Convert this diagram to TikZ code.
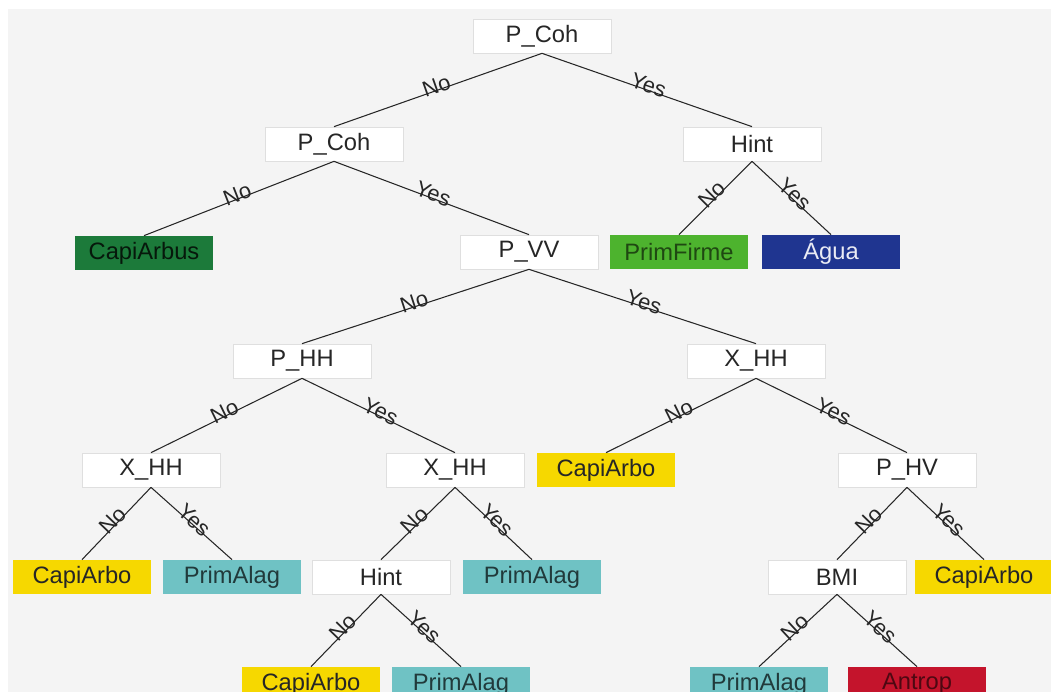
\documentclass[tikz,border=0pt]{standalone}
\usepackage{fontspec}
\setmainfont{Liberation Sans}
\definecolor{paperGray}{HTML}{F4F4F4}
\definecolor{capiYellow}{HTML}{F6D800}
\definecolor{primTeal}{HTML}{6FC2C4}
\definecolor{arbusGreen}{HTML}{1C7A3A}
\definecolor{firmeGreen}{HTML}{4DB32E}
\definecolor{aguaBlue}{HTML}{1F3590}
\definecolor{antropRed}{HTML}{C4142C}
\begin{document}
\begin{tikzpicture} [x=0.02cm,y=-0.02cm,
	box/.style={shape=rectangle,minimum width=2.76cm,minimum height=0.68cm,inner sep=0pt,font=\fontsize{13.5}{15}\selectfont},
	test/.style={box,draw=gray!25,fill=white,text=black!85},
	leaf/.style 2 args={box,fill=#1,text=#2},
	branch/.style={line width=0.6pt,black!85},
	answer/.style={midway,above=-2.5pt,sloped,inner sep=0.5pt,font=\fontsize{12.5}{14}\selectfont,text=black!85}]
	\useasboundingbox (0,0) rectangle (1051,692);
	\fill[white] (0,0) rectangle (1051,692);
	\fill[paperGray] (8,9) rectangle (1051,692);

	\node (root) at (542,36)[test] {P\_Coh};
	\node (pCoh) at (334,144)[test] {P\_Coh};
	\node (hintTop) at (752,144)[test] {Hint};
	\node (capiArbus) at (144,253)[leaf={arbusGreen}{black!80!arbusGreen}] {CapiArbus};
	\node (pVV) at (529,252)[test] {P\_VV};
	\node (primFirme) at (679,252)[leaf={firmeGreen}{black!60!firmeGreen}] {PrimFirme};
	\node (agua) at (831,252)[leaf={aguaBlue}{white!90!aguaBlue}] {Água};
	\node (pHH) at (302,361)[test] {P\_HH};
	\node (xHHr) at (756,361)[test] {X\_HH};
	\node (xHHl) at (151,470)[test] {X\_HH};
	\node (xHHm) at (455,470)[test] {X\_HH};
	\node (capiA) at (606,470)[leaf={capiYellow}{black!85}] {CapiArbo};
	\node (pHV) at (907,470)[test] {P\_HV};
	\node (capiB) at (82,577)[leaf={capiYellow}{black!85}] {CapiArbo};
	\node (primA) at (232,577)[leaf={primTeal}{black!70!primTeal}] {PrimAlag};
	\node (hintLow) at (381,577)[test] {Hint};
	\node (primB) at (532,577)[leaf={primTeal}{black!70!primTeal}] {PrimAlag};
	\node (bmi) at (837,577)[test] {BMI};
	\node (capiC) at (984,577)[leaf={capiYellow}{black!85}] {CapiArbo};
	\node (capiD) at (311,684)[leaf={capiYellow}{black!85}] {CapiArbo};
	\node (primC) at (461,684)[leaf={primTeal}{black!70!primTeal}] {PrimAlag};
	\node (primD) at (759,684)[leaf={primTeal}{black!70!primTeal}] {PrimAlag};
	\node (antrop) at (917,684)[leaf={antropRed}{black!60!antropRed}] {Antrop};

	\draw[branch] (root.south) -- node[answer] {No} (pCoh.north);
	\draw[branch] (root.south) -- node[answer] {Yes} (hintTop.north);
	\draw[branch] (pCoh.south) -- node[answer] {No} (capiArbus.north);
	\draw[branch] (pCoh.south) -- node[answer] {Yes} (pVV.north);
	\draw[branch] (hintTop.south) -- node[answer] {No} (primFirme.north);
	\draw[branch] (hintTop.south) -- node[answer] {Yes} (agua.north);
	\draw[branch] (pVV.south) -- node[answer] {No} (pHH.north);
	\draw[branch] (pVV.south) -- node[answer] {Yes} (xHHr.north);
	\draw[branch] (pHH.south) -- node[answer] {No} (xHHl.north);
	\draw[branch] (pHH.south) -- node[answer] {Yes} (xHHm.north);
	\draw[branch] (xHHr.south) -- node[answer] {No} (capiA.north);
	\draw[branch] (xHHr.south) -- node[answer] {Yes} (pHV.north);
	\draw[branch] (xHHl.south) -- node[answer] {No} (capiB.north);
	\draw[branch] (xHHl.south) -- node[answer] {Yes} (primA.north);
	\draw[branch] (xHHm.south) -- node[answer] {No} (hintLow.north);
	\draw[branch] (xHHm.south) -- node[answer] {Yes} (primB.north);
	\draw[branch] (pHV.south) -- node[answer] {No} (bmi.north);
	\draw[branch] (pHV.south) -- node[answer] {Yes} (capiC.north);
	\draw[branch] (hintLow.south) -- node[answer] {No} (capiD.north);
	\draw[branch] (hintLow.south) -- node[answer] {Yes} (primC.north);
	\draw[branch] (bmi.south) -- node[answer] {No} (primD.north);
	\draw[branch] (bmi.south) -- node[answer] {Yes} (antrop.north);
\end{tikzpicture}
\end{document}
